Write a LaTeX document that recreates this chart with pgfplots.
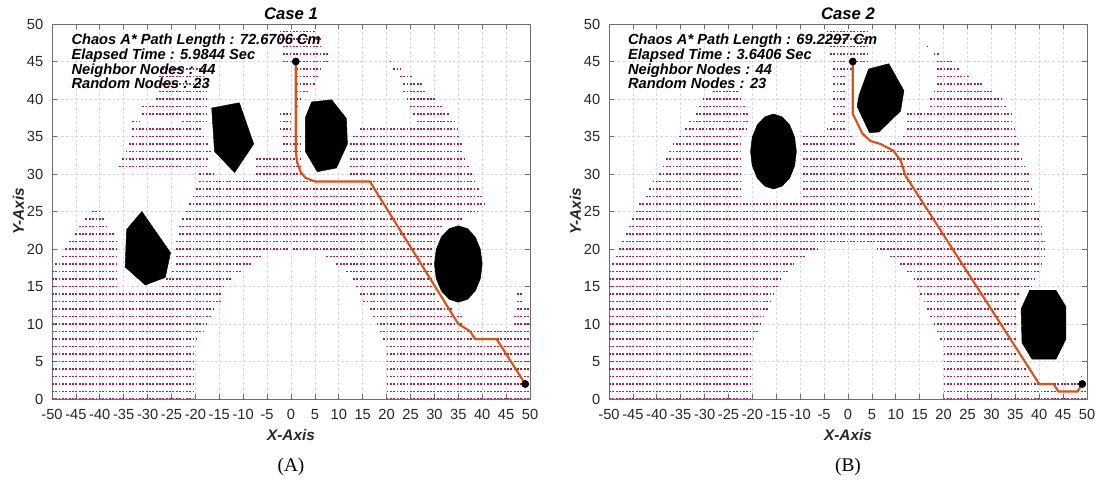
\documentclass[border=0pt]{standalone}
\usepackage{fontspec}
\setmainfont{Liberation Sans}
\newfontfamily\timesf{Liberation Serif}
\usepackage{pgfplots}
\pgfplotsset{compat=1.18}
\definecolor{dotc}{RGB}{160,35,90}
\definecolor{pathc}{RGB}{217,83,25}
\definecolor{gridc}{RGB}{218,218,218}
\definecolor{axc}{RGB}{110,110,110}
\definecolor{txtc}{RGB}{38,38,38}
\newcommand\annfont{\fontsize{11}{12}\selectfont\bfseries\itshape}
\pgfplotsset{
 panel/.style={
  scale only axis, width=358.5pt, height=281.25pt,
  anchor=south west,
  xmin=-50, xmax=50, ymin=0, ymax=50,
  xtick={-50,-45,...,50}, ytick={0,5,...,50},
  /pgf/number format/assume math mode=true,
  tick label style={font=\fontsize{11}{12}\selectfont, text=txtc},
  xticklabel style={yshift=-4.5pt},
  yticklabel style={xshift=-3pt},
  tick align=inside, major tick length=4pt,
  tick style={axc, line width=0.5pt},
  axis line style={axc, line width=0.6pt},
  xmajorgrids, ymajorgrids,
  major grid style={gridc, line width=0.5pt, dash pattern=on 2pt off 1.5pt},
  title style={at={(axis description cs:0.5,1)}, anchor=base, yshift=-2.5pt, font=\fontsize{12.5}{14}\selectfont\bfseries\itshape},
  xlabel style={at={(axis description cs:0.5,0)}, anchor=base, yshift=-31pt, font=\fontsize{11.5}{13}\selectfont\bfseries\itshape, text=txtc},
  ylabel style={at={(axis description cs:-0.0586,0.5)}, anchor=base, font=\fontsize{11.5}{13}\selectfont\bfseries\itshape, text=txtc},
  xlabel={X-Axis}, ylabel={Y-Axis},
  unbounded coords=jump,
 },
 dots/.style={dotc, line width=1.35pt, dash pattern=on 1.35pt off 1.16pt, forget plot},
 obst/.style={fill=black, draw=black, line width=0.3pt},
 route/.style={pathc, line width=1.6pt},
 ends/.style={only marks, mark=*, mark size=2.7pt, black},
}
\begin{document}
\begin{tikzpicture}
\useasboundingbox (0,0) rectangle (821.25pt,360.75pt);
% ---------------- Case 1 ----------------
\begin{axis}[panel, name=A, at={(39pt,61.5pt)}, title={Case 1}]
\addplot[dots] coordinates {
(-50,0)(-20.3,0)(nan,nan)(20,0)(49.7,0)(nan,nan)
(-50,1)(-20.3,1)(nan,nan)(20,1)(49.7,1)(nan,nan)
(-50,2)(-20.3,2)(nan,nan)(20,2)(49.7,2)(nan,nan)
(-50,3)(-20.3,3)(nan,nan)(20,3)(49.7,3)(nan,nan)
(-50,4)(-20.3,4)(nan,nan)(20,4)(49.7,4)(nan,nan)
(-50,5)(-20.3,5)(nan,nan)(20,5)(49.7,5)(nan,nan)
(-50,6)(-20.3,6)(nan,nan)(20,6)(49.7,6)(nan,nan)
(-50,7)(-20.3,7)(nan,nan)(20,7)(49.7,7)(nan,nan)
(-50,8)(-19.6,8)(nan,nan)(19.3,8)(49.7,8)(nan,nan)
(-50,9)(-18.2,9)(nan,nan)(18.6,9)(49.7,9)(nan,nan)
(-50,10)(-17.5,10)(nan,nan)(17.9,10)(35.7,10)(nan,nan)(46.6,10)(49.7,10)(nan,nan)
(-50,11)(-16.8,11)(nan,nan)(17.2,11)(35.7,11)(nan,nan)(46.6,11)(49.7,11)(nan,nan)
(-50,12)(-16.1,12)(nan,nan)(16.5,12)(33.6,12)(nan,nan)(47.3,12)(49.7,12)(nan,nan)
(-50,13)(-14.7,13)(nan,nan)(15.1,13)(30.9,13)(nan,nan)(47.3,13)(48.3,13)(nan,nan)
(-50,14)(-14.7,14)(nan,nan)(14.4,14)(30.2,14)(nan,nan)(47.3,14)(48.3,14)(nan,nan)
(-50,15)(-36.4,15)(nan,nan)(-26.9,15)(-14,15)(nan,nan)(13.7,15)(29.5,15)(nan,nan)
(-50,16)(-36.4,16)(nan,nan)(-26.2,16)(-12.6,16)(nan,nan)(13,16)(29.5,16)(nan,nan)
(-50,17)(-36.4,17)(nan,nan)(-24.8,17)(-10.5,17)(nan,nan)(11.6,17)(29.5,17)(nan,nan)
(-49.3,18)(-36.4,18)(nan,nan)(-24.1,18)(-8.4,18)(nan,nan)(9.5,18)(29.5,18)(nan,nan)
(-47.9,19)(-36.4,19)(nan,nan)(-24.1,19)(-6.3,19)(nan,nan)(7.4,19)(29.5,19)(nan,nan)
(-47.2,20)(-36.4,20)(nan,nan)(-24.1,20)(-0.7,20)(nan,nan)(0.4,20)(29.5,20)(nan,nan)
(-46.5,21)(-36.4,21)(nan,nan)(-24.1,21)(30.2,21)(nan,nan)
(-45.1,22)(-37.1,22)(nan,nan)(-23.4,22)(30.9,22)(nan,nan)
(-44.4,23)(-38.5,23)(nan,nan)(-23.4,23)(31.6,23)(nan,nan)
(-43,24)(-39.2,24)(nan,nan)(-22.7,24)(35.7,24)(nan,nan)
(-41.6,25)(-39.9,25)(nan,nan)(-22,25)(39.2,25)(nan,nan)
(-21.3,26)(40.6,26)(nan,nan)
(-20.6,27)(40.3,27)(nan,nan)
(-19.9,28)(39.6,28)(nan,nan)
(-19.2,29)(38.9,29)(nan,nan)
(-19.2,30)(-16.1,30)(nan,nan)(-7.3,30)(2.2,30)(nan,nan)(12.3,30)(38.2,30)(nan,nan)
(-36,31)(-17.5,31)(nan,nan)(-7.3,31)(2.2,31)(nan,nan)(12.3,31)(37.5,31)(nan,nan)
(-35.3,32)(-17.1,32)(nan,nan)(-7.3,32)(2.2,32)(nan,nan)(12.3,32)(36.8,32)(nan,nan)
(-34.6,33)(-16.8,33)(nan,nan)(-1.7,33)(2.2,33)(nan,nan)(12.3,33)(36.1,33)(nan,nan)
(-33.9,34)(-17.1,34)(nan,nan)(-1.7,34)(2.2,34)(nan,nan)(12.3,34)(35.7,34)(nan,nan)
(-33.2,35)(-17.8,35)(nan,nan)(-1.7,35)(2.2,35)(nan,nan)(13,35)(35.4,35)(nan,nan)
(-33.2,36)(-18.5,36)(nan,nan)(-2.4,36)(0.1,36)(nan,nan)(14.4,36)(35,36)(nan,nan)
(-33.2,37)(-31.5,37)(nan,nan)(-22.7,37)(-17.5,37)(nan,nan)(-2.4,37)(0.1,37)(nan,nan)(26.3,37)(34.6,37)(nan,nan)
(-31.1,38)(-17.5,38)(nan,nan)(-2.4,38)(0.1,38)(nan,nan)(25.6,38)(33.2,38)(nan,nan)
(-31.1,39)(-17.5,39)(nan,nan)(1.1,39)(1.8,39)(nan,nan)(24.9,39)(31.6,39)(nan,nan)
(-28.3,40)(-17.5,40)(nan,nan)(1.1,40)(2.5,40)(nan,nan)(24.2,40)(30.5,40)(nan,nan)
(-27.6,41)(-17.5,41)(nan,nan)(1.1,41)(3.9,41)(nan,nan)(23.5,41)(28.4,41)(nan,nan)
(-27.6,42)(-17.5,42)(nan,nan)(1.1,42)(5,42)(nan,nan)(23.5,42)(27.3,42)(nan,nan)
(-27.6,43)(-18.2,43)(nan,nan)(1.1,43)(5.7,43)(nan,nan)(22.8,43)(25.5,43)(nan,nan)
(-26.9,44)(-18.2,44)(nan,nan)(1.1,44)(6.7,44)(nan,nan)(21.4,44)(23.1,44)(nan,nan)
(-1.7,45)(0.1,45)(nan,nan)(1.8,45)(7.7,45)(nan,nan)(20.7,45)(21,45)(nan,nan)
(-1.7,46)(7.7,46)(nan,nan)
(-1.7,47)(6.7,47)(nan,nan)
(-2.4,48)(6.7,48)(nan,nan)
(-2.4,49)(5,49)(nan,nan)
};
\addplot[obst] coordinates {(-31.2,25)(-25.2,19.5)(-26.3,16.2)(-30.5,15.2)(-34.7,17.6)(-34.4,22.6)} -- cycle;
\addplot[obst] coordinates {(-16.6,38.8)(-10.8,39.5)(-7.8,34)(-11.8,30.2)(-16,33)} -- cycle;
\addplot[obst] coordinates {(4.3,39.6)(8.5,39.9)(11.6,37.4)(11.8,34)(9.5,30.8)(5.5,30.3)(3,33)(3,37.5)} -- cycle;
\addplot[obst] coordinates {(40,18)(39.62,19.95)(38.54,21.61)(36.91,22.71)(35,23.1)(33.09,22.71)(31.46,21.61)(30.38,19.95)(30,18)(30.38,16.05)(31.46,14.39)(33.09,13.29)(35,12.9)(36.91,13.29)(38.54,14.39)(39.62,16.05)} -- cycle;
\addplot[route] coordinates {(1,45)(1,33)(1.3,31.5)(2,30.3)(3,29.5)(5,29)(16.5,29)(35,10)(36.3,9.5)(37.5,9)(38.5,8)(43,8)(49,2)};
\addplot[ends] coordinates {(1,45)(49,2)};
\node[anchor=base west, font=\annfont] at (axis cs:-46.9,47.2) {Chaos A* Path Length : 72.6706 Cm};
\node[anchor=base west, font=\annfont] at (axis cs:-46.9,45.3) {Elapsed Time : 5.9844 Sec};
\node[anchor=base west, font=\annfont] at (axis cs:-46.9,43.3) {Neighbor Nodes : 44};
\node[anchor=base west, font=\annfont] at (axis cs:-46.9,41.4) {Random Nodes : 23};
\end{axis}
\node[anchor=base, font=\timesf\fontsize{14.5}{16}\selectfont, yshift=-54.5pt] at (A.south) {(A)};
% ---------------- Case 2 ----------------
\begin{axis}[panel, name=B, at={(456.75pt,61.5pt)}, title={Case 2}]
\addplot[dots] coordinates {
(-50,0)(-20.3,0)(nan,nan)(20,0)(49.7,0)(nan,nan)
(-50,1)(-20.3,1)(nan,nan)(20,1)(49.7,1)(nan,nan)
(-50,2)(-20.3,2)(nan,nan)(20,2)(49.7,2)(nan,nan)
(-50,3)(-20.3,3)(nan,nan)(20,3)(38.2,3)(nan,nan)(48.7,3)(49,3)(nan,nan)
(-50,4)(-20.3,4)(nan,nan)(20,4)(37.5,4)(nan,nan)
(-50,5)(-20.3,5)(nan,nan)(20,5)(36.1,5)(nan,nan)
(-50,6)(-20.3,6)(nan,nan)(20,6)(35.4,6)(nan,nan)
(-50,7)(-20.3,7)(nan,nan)(20,7)(35.4,7)(nan,nan)
(-50,8)(-19.6,8)(nan,nan)(19.3,8)(35.4,8)(nan,nan)
(-50,9)(-18.9,9)(nan,nan)(18.6,9)(35.4,9)(nan,nan)
(-50,10)(-18.2,10)(nan,nan)(17.9,10)(35.4,10)(nan,nan)
(-50,11)(-17.5,11)(nan,nan)(17.2,11)(35.4,11)(nan,nan)
(-50,12)(-16.8,12)(nan,nan)(16.5,12)(35.4,12)(nan,nan)
(-50,13)(-16.1,13)(nan,nan)(15.8,13)(35.4,13)(nan,nan)
(-50,14)(-15.4,14)(nan,nan)(15.1,14)(36.1,14)(nan,nan)
(-50,15)(-14.7,15)(nan,nan)(14.4,15)(38.5,15)(nan,nan)
(-50,16)(-14,16)(nan,nan)(13.7,16)(39.2,16)(nan,nan)
(-50,17)(-12.6,17)(nan,nan)(12.3,17)(39.9,17)(nan,nan)
(-49.3,18)(-11.2,18)(nan,nan)(10.9,18)(40.6,18)(nan,nan)
(-48.6,19)(-9.1,19)(nan,nan)(8.8,19)(41.3,19)(nan,nan)
(-47.9,20)(-6.3,20)(nan,nan)(6,20)(41.3,20)(nan,nan)
(-47.2,21)(41.3,21)(nan,nan)
(-46.5,22)(40.6,22)(nan,nan)
(-45.8,23)(40.6,23)(nan,nan)
(-45.1,24)(39.9,24)(nan,nan)
(-44.4,25)(39.9,25)(nan,nan)
(-43.7,26)(39.2,26)(nan,nan)
(-42.3,27)(-22,27)(nan,nan)(-9.4,27)(38.5,27)(nan,nan)
(-41.6,28)(-22,28)(nan,nan)(-9.4,28)(38.5,28)(nan,nan)
(-40.9,29)(-22,29)(nan,nan)(-9.4,29)(37.8,29)(nan,nan)
(-39.5,30)(-22,30)(nan,nan)(-9.4,30)(37.8,30)(nan,nan)
(-38.8,31)(-22,31)(nan,nan)(-9.4,31)(37.1,31)(nan,nan)
(-38.1,32)(-22,32)(nan,nan)(-9.4,32)(36.4,32)(nan,nan)
(-37.4,33)(-22,33)(nan,nan)(-9.4,33)(35.7,33)(nan,nan)
(-36.7,34)(-22,34)(nan,nan)(-9.4,34)(1.8,34)(nan,nan)(8.8,34)(35.7,34)(nan,nan)
(-35.3,35)(-22,35)(nan,nan)(-9.4,35)(1.1,35)(nan,nan)(11.6,35)(35.4,35)(nan,nan)
(-34,36)(-21.3,36)(nan,nan)(-4.5,36)(-0.7,36)(nan,nan)(12.3,36)(35,36)(nan,nan)
(-33.2,37)(-20.6,37)(nan,nan)(-3.1,37)(-0.7,37)(nan,nan)(12.3,37)(34.6,37)(nan,nan)
(-31.8,38)(-20.6,38)(nan,nan)(-3.1,38)(-0.7,38)(nan,nan)(12.3,38)(34.3,38)(nan,nan)
(-31.1,39)(-21.3,39)(nan,nan)(-3.1,39)(-0.7,39)(nan,nan)(17.2,39)(33.2,39)(nan,nan)
(-30.4,40)(-22,40)(nan,nan)(-3.1,40)(-0.7,40)(nan,nan)(17.2,40)(32.2,40)(nan,nan)
(-28.3,41)(-22.7,41)(nan,nan)(-3.1,41)(-0.7,41)(nan,nan)(17.9,41)(30.5,41)(nan,nan)
(-3.1,42)(-0.7,42)(nan,nan)(18.6,42)(28.4,42)(nan,nan)
(-3.1,43)(-0.7,43)(nan,nan)(18.6,43)(25.6,43)(nan,nan)
(-3.1,44)(1.1,44)(nan,nan)(18.6,44)(23.5,44)(nan,nan)
(-3.1,45)(-0.3,45)(nan,nan)(1.8,45)(4.6,45)(nan,nan)(18.6,45)(21.7,45)(nan,nan)
(-3.8,46)(4.6,46)(nan,nan)(17.9,46)(19.3,46)(nan,nan)
(-3.8,47)(4.6,47)(nan,nan)(16.5,47)(16.8,47)(nan,nan)
(-4.5,48)(4.6,48)(nan,nan)
(-4.5,49)(4.6,49)(nan,nan)
};
\addplot[obst] coordinates {(-10.8,33)(-11.16,34.91)(-12.2,36.54)(-13.77,37.62)(-15.6,38)(-17.43,37.62)(-19,36.54)(-20.04,34.91)(-20.4,33)(-20.04,31.09)(-19,29.46)(-17.43,28.38)(-15.6,28)(-13.77,28.38)(-12.2,29.46)(-11.16,31.09)} -- cycle;
\addplot[obst] coordinates {(8.55,44.7)(11.7,41.1)(11,38.4)(6.5,35.6)(4.5,35.5)(1.9,39)(2.3,40.5)(4.3,44)} -- cycle;
\addplot[obst] coordinates {(38,14.5)(43.5,14.5)(45.6,12.3)(45.6,8)(43.5,5.3)(38.5,5.3)(36.4,7.5)(36.2,12)} -- cycle;
\addplot[route] coordinates {(1,45)(1,38)(3,35.4)(4.7,34.4)(6.8,34)(9.5,33.1)(11,31.8)(12,29.8)(40,2)(43,2)(44,1)(48,1)(49,2)};
\addplot[ends] coordinates {(1,45)(49,2)};
\node[anchor=base west, font=\annfont] at (axis cs:-47,47.2) {Chaos A* Path Length : 69.2297 Cm};
\node[anchor=base west, font=\annfont] at (axis cs:-47,45.3) {Elapsed Time : 3.6406 Sec};
\node[anchor=base west, font=\annfont] at (axis cs:-47,43.3) {Neighbor Nodes : 44};
\node[anchor=base west, font=\annfont] at (axis cs:-47,41.4) {Random Nodes : 23};
\end{axis}
\node[anchor=base, font=\timesf\fontsize{14.5}{16}\selectfont, yshift=-54.5pt] at (B.south) {(B)};
\end{tikzpicture}
\end{document}
